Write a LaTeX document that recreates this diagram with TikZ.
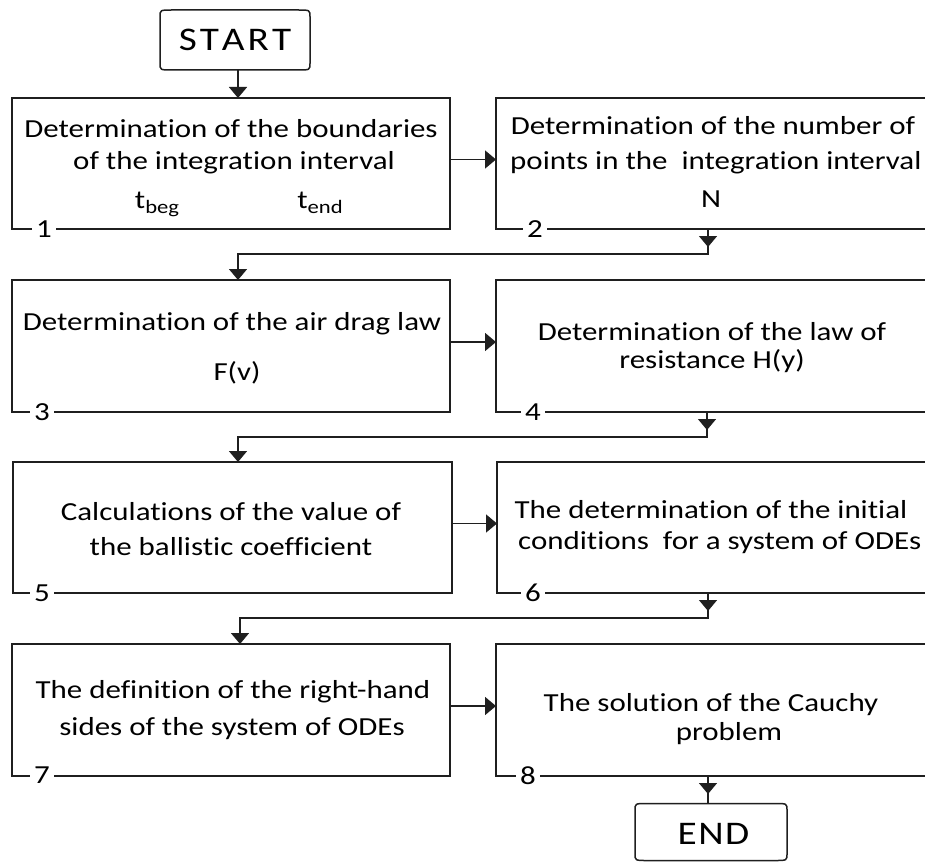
\documentclass[tikz,border=0pt]{standalone}
\usepackage{fontspec}
\setmainfont{Carlito}[FakeStretch=1.19, Ligatures=NoCommon]
\usetikzlibrary{arrows.meta}
\newcommand\bodysize{\fontsize{26}{31}\selectfont}
\newcommand\termsize{\fontsize{33}{38}\selectfont}
\newcommand\subtxt[1]{\raisebox{-5pt}{\fontsize{19}{19}\selectfont #1}}
\newcommand\termframe[1]{%
  \draw[line] ([xshift=12pt]#1.north west) -- ([xshift=-12pt]#1.north east)
    .. controls (#1.north east) .. ([yshift=-7pt]#1.north east)
    -- ([yshift=7pt]#1.south east)
    .. controls (#1.south east) .. ([xshift=-12pt]#1.south east)
    -- ([xshift=12pt]#1.south west)
    .. controls (#1.south west) .. ([yshift=7pt]#1.south west)
    -- ([yshift=-7pt]#1.north west)
    .. controls (#1.north west) .. cycle;}
\begin{document}
\begin{tikzpicture}[x=1pt,y=-1pt,
  line/.style={draw=black!88, line width=1.5pt},
  arr/.style={line, -{Triangle[length=11pt,width=18pt]}},
  box/.style={line, rectangle, inner sep=0pt, outer sep=0pt, anchor=north west},
  term/.style={inner sep=0pt, outer sep=0pt},
  termtxt/.style={font=\termsize, inner sep=0pt, anchor=base},
  txt/.style={font=\bodysize, inner sep=0pt, anchor=base},
  txtl/.style={txt, anchor=base west},
  num/.style={font=\bodysize, fill=white, inner xsep=4pt, inner ysep=1pt}]
\useasboundingbox (0,0) rectangle (925,861);
\fill[white] (0,0) rectangle (925,861);

% terminals
\node[term, minimum width=150pt, minimum height=60pt] (start) at (235,40) {};
\termframe{start}
\node[termtxt] (starttxt) at (235,51) {S\kern3pt T\kern3pt A\kern3pt R\kern3pt T};
\node[term, minimum width=152pt, minimum height=57pt] (end) at (711,832) {};
\termframe{end}
\node[termtxt] (endtxt) at (713.5,844) {E\kern1.5pt N\kern1.5pt D};

% process boxes
\node[box, minimum width=438pt, minimum height=131pt] (b1) at (12,98) {};
\node[box, minimum width=434pt, minimum height=131pt] (b2) at (496,98) {};
\node[box, minimum width=438pt, minimum height=132pt] (b3) at (12,280) {};
\node[box, minimum width=434pt, minimum height=132pt] (b4) at (496,280) {};
\node[box, minimum width=439pt, minimum height=131pt] (b5) at (13,462) {};
\node[box, minimum width=434pt, minimum height=131pt] (b6) at (497,462) {};
\node[box, minimum width=438pt, minimum height=132pt] (b7) at (12,644) {};
\node[box, minimum width=434pt, minimum height=132pt] (b8) at (496,644) {};

% texts
\node[txt] (t1a) at (231,138) {Determination of the boundaries};
\node[txt] (t1b) at (234,170) {of the integration interval};
\node[txt] (t1c) at (157,208) {t\subtxt{beg}};
\node[txt] (t1d) at (320,208) {t\subtxt{end}};
\node[txt] (t2a) at (713,135) {Determination of the number of};
\node[txtl] (t2b) at (510,170) {points in the\ \ integration interval};
\node[txt] (t2c) at (711,207) {N};
\node[txt] (t3a) at (232,330) {Determination of the air drag law};
\node[txt] (t3b) at (237,380) {F(v)};
\node[txt] (t4a) at (712,340) {Determination of the law of};
\node[txt] (t4b) at (712,368) {resistance H(y)};
\node[txt] (t5a) at (231,520) {Calculations of the value of};
\node[txt] (t5b) at (231,555) {the ballistic coefficient};
\node[txt] (t6a) at (711,518) {The determination of the initial};
\node[txtl] (t6b) at (518,549) {conditions\ \ for a system of ODEs};
\node[txt] (t7a) at (233,698) {The definition of the right-hand};
\node[txt] (t7b) at (232,735) {sides of the system of ODEs};
\node[txt] (t8a) at (711,711) {The solution of the Cauchy};
\node[txt] (t8b) at (729,740) {problem};

% numbers
\node[num] (n1) at (44,229) {1};
\node[num] (n2) at (535,229) {2};
\node[num] (n3) at (42,412) {3};
\node[num] (n4) at (533,412) {4};
\node[num] (n5) at (42,593) {5};
\node[num] (n6) at (533,593) {6};
\node[num] (n7) at (42,775) {7};
\node[num] (n8) at (528,776) {8};

% connector points
\coordinate (e1) at (238,98);
\coordinate (d2) at (708,229);
\coordinate (j2) at (708,254);
\coordinate (e3) at (238,280);
\coordinate (d4) at (707,412);
\coordinate (j4) at (707,437);
\coordinate (e5) at (238,462);
\coordinate (d6) at (708,593);
\coordinate (j6) at (708,618);
\coordinate (e7) at (240,644);
\coordinate (d8) at (708,776);

% connectors
\draw[arr] (start.south -| e1) -- (e1);
\draw[arr] ([yshift=4pt]b1.east) -- ([yshift=4pt]b2.west);
\draw[arr] ([yshift=4pt]b3.east) -- ([yshift=4pt]b4.west);
\draw[arr] ([yshift=4pt]b5.east) -- ([yshift=4pt]b6.west);
\draw[arr] ([yshift=4pt]b7.east) -- ([yshift=4pt]b8.west);

\draw[arr] (d2) -- (j2) -| (e3);
\draw[arr] (d2) -- ++(0,18);
\draw[arr] (d4) -- (j4) -| (e5);
\draw[arr] (d4) -- ++(0,18);
\draw[arr] (d6) -- (j6) -| (e7);
\draw[arr] (d6) -- ++(0,18);
\draw[line] (d8) -- (end.north -| d8);
\draw[arr] (d8) -- ++(0,18);
\end{tikzpicture}
\end{document}
